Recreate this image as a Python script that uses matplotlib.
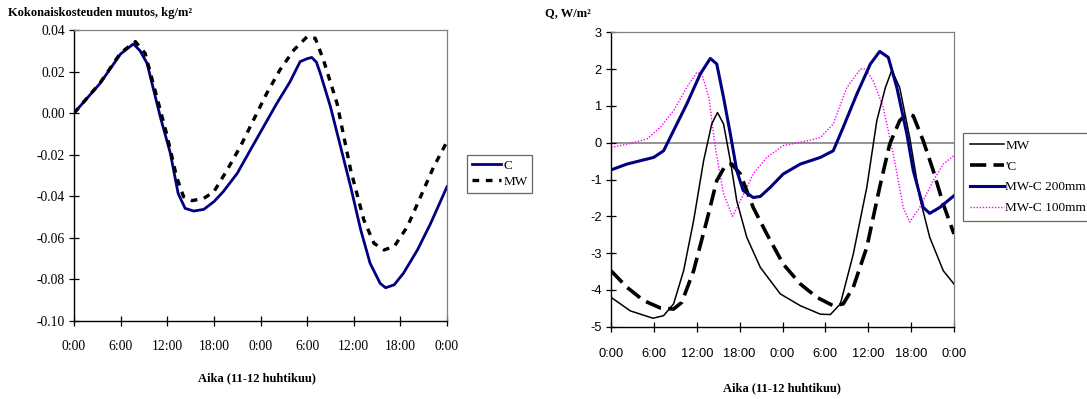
import matplotlib
matplotlib.use("Agg")
import matplotlib.pyplot as plt

# ---------------- data ----------------
# Left chart: total moisture change, kg/m2 (x in hours from start)
c_hours = [0, 3.35, 6.0, 7.65, 8.5, 9.4, 11.1, 12.4, 13.4, 14.3, 15.4, 16.7, 18.0, 19.2, 21.0,
           22.7, 24.4, 26.1, 27.8, 29.1, 30.0, 30.6, 31.2, 31.7, 33.0, 34.3, 35.6, 36.9, 38.1,
           39.4, 40.1, 41.2, 42.4, 44.2, 45.9, 48]
c_vals = [0.0, 0.0143, 0.0285, 0.0333, 0.030, 0.024, -0.0017, -0.0193, -0.0386, -0.0458,
          -0.0471, -0.0463, -0.0426, -0.0378, -0.029, -0.0177, -0.0065, 0.0047, 0.0151,
          0.0248, 0.0262, 0.0268, 0.0245, 0.0191, 0.0031, -0.0161, -0.0354, -0.0562, -0.0722,
          -0.0819, -0.084, -0.0826, -0.077, -0.0658, -0.053, -0.0354]
mw_hours = [0, 3.35, 6.0, 7.9, 9.15, 10.65, 11.9, 13.2, 14.1, 15.2, 16.7, 18.0, 19.7, 21.4,
            23.1, 24.8, 26.5, 28.3, 30.0, 31.05, 32.1, 33.85, 35.6, 37.3, 38.6, 39.9, 41.2,
            42.9, 44.6, 46.3, 48]
mw_vals = [0.0, 0.0145, 0.029, 0.0344, 0.0288, 0.0079, -0.0097, -0.0306, -0.0402, -0.0421,
           -0.041, -0.0378, -0.0274, -0.0161, -0.0033, 0.0095, 0.0208, 0.0304, 0.0368, 0.036,
           0.0256, 0.0047, -0.0273, -0.0514, -0.0626, -0.0658, -0.0642, -0.0546, -0.0402,
           -0.0257, -0.0137]

# Right chart: heat flux Q, W/m2
q_mw_h = [0, 2.7, 5.87, 7.36, 8.76, 10.16, 11.56, 12.96, 14.1, 14.9, 15.75, 16.7, 17.6, 19.0,
          20.9, 23.7, 26.5, 29.3, 30.7, 32.1, 33.9, 35.8, 37.2, 38.4, 39.3, 40.4, 41.8, 43.2,
          44.6, 46.5, 48]
q_mw_v = [-4.20, -4.57, -4.77, -4.70, -4.38, -3.48, -2.12, -0.49, 0.51, 0.82, 0.51, -0.49,
          -1.58, -2.57, -3.39, -4.11, -4.43, -4.66, -4.67, -4.38, -3.03, -1.21, 0.6, 1.5,
          1.97, 1.5, 0.14, -1.49, -2.57, -3.48, -3.84]
q_c_h = [0, 2.24, 4.57, 6.9, 8.76, 9.9, 11.56, 13.4, 14.8, 16.0, 16.9, 18.1, 19.9, 21.8, 24.1,
         26.5, 28.8, 31.1, 32.5, 33.9, 35.8, 37.6, 39.0, 40.4, 41.4, 42.3, 43.7, 45.1, 46.5, 48]
q_c_v = [-3.48, -3.93, -4.29, -4.49, -4.52, -4.34, -3.48, -2.12, -1.03, -0.62, -0.58, -0.85,
         -1.76, -2.48, -3.30, -3.84, -4.20, -4.43, -4.38, -3.93, -2.84, -1.21, -0.04, 0.6,
         0.78, 0.73, 0.05, -0.76, -1.67, -2.48]
q_200_h = [0, 2.24, 5.96, 7.36, 8.76, 10.6, 12.5, 13.9, 14.8, 15.75, 16.7, 17.6, 18.5, 19.9,
           20.9, 22.3, 24.1, 26.5, 29.3, 31.1, 32.5, 34.4, 36.3, 37.6, 38.8, 40.0, 41.4, 42.3,
           43.7, 44.6, 46.0, 48]
q_200_v = [-0.74, -0.58, -0.40, -0.22, 0.33, 1.05, 1.87, 2.29, 2.14, 1.23, 0.24, -0.76, -1.30,
           -1.49, -1.46, -1.21, -0.85, -0.58, -0.40, -0.22, 0.42, 1.32, 2.14, 2.48, 2.32, 1.50,
           0.24, -0.76, -1.76, -1.92, -1.76, -1.44]
q_100_h = [0, 2.24, 5.03, 6.9, 8.76, 10.6, 12.0, 12.7, 13.7, 14.6, 15.75, 17.0, 18.1, 19.9,
           21.8, 24.1, 27.4, 29.3, 31.1, 33.0, 34.9, 35.6, 36.7, 38.1, 39.5, 40.9, 41.8, 43.2,
           45.1, 46.5, 48]
q_100_v = [-0.13, -0.04, 0.10, 0.42, 0.87, 1.50, 1.91, 1.87, 1.23, -0.13, -1.39, -2.0, -1.58,
           -0.85, -0.40, -0.08, 0.05, 0.14, 0.51, 1.50, 2.0, 2.0, 1.68, 0.96, -0.31, -1.76,
           -2.16, -1.76, -1.03, -0.58, -0.35]

tick_hours = [0, 6, 12, 18, 24, 30, 36, 42, 48]
tick_labels = ["0:00", "6:00", "12:00", "18:00", "0:00", "6:00", "12:00", "18:00", "0:00"]
left_yticks = [0.04, 0.02, 0.00, -0.02, -0.04, -0.06, -0.08, -0.10]
right_yticks = [3, 2, 1, 0, -1, -2, -3, -4, -5]

SERIF = "Liberation Serif"
SANS = "Liberation Sans"
GRAY = "#808080"

fig = plt.figure(figsize=(10.87, 3.99), dpi=100)

# ---------------- left chart ----------------
ax1 = fig.add_axes([74/1087, 1-321/399, 373/1087, 291/399])
ax1.plot(c_hours, c_vals, color="#000080", lw=2.0, label="C", solid_joinstyle="round")
ax1.plot(mw_hours, mw_vals, color="black", lw=2.4, ls=(0, (2.0, 2.0)), label="MW")
ax1.set_xlim(0, 48)
ax1.set_ylim(-0.10, 0.04)
ax1.set_xticks(tick_hours)
ax1.set_xticklabels(tick_labels, fontfamily=SERIF, fontsize=9.8)
ax1.set_yticks(left_yticks)
ax1.set_yticklabels([f"{v:.2f}" for v in left_yticks], fontfamily=SERIF, fontsize=9.8)
ax1.tick_params(axis="both", direction="inout", length=7, width=0.9, pad=3)
ax1.tick_params(axis="x", pad=10)
for s in ("top", "right"):
    ax1.spines[s].set_color(GRAY)
    ax1.spines[s].set_linewidth(0.9)
for s in ("left", "bottom"):
    ax1.spines[s].set_linewidth(1.0)
fig.text(8/1087, 1-13/399, "Kokonaiskosteuden muutos, kg/m²", fontfamily=SERIF,
         fontweight="bold", fontsize=9, va="center", ha="left")
fig.text(257/1087, 1-378/399, "Aika (11-12 huhtikuu)", fontfamily=SERIF,
         fontweight="bold", fontsize=9, va="center", ha="center")
leg1 = ax1.legend(loc="upper left", bbox_to_anchor=(467/1087, 1-155/399),
                  bbox_transform=fig.transFigure, borderaxespad=0,
                  prop={"family": SERIF, "size": 9.5}, frameon=True, fancybox=False,
                  edgecolor="#404040", handlelength=2.2, handletextpad=0.2,
                  borderpad=0.35, labelspacing=0.3)
leg1.get_frame().set_linewidth(0.9)

# ---------------- right chart ----------------
ax2 = fig.add_axes([611/1087, 1-326.7/399, 343/1087, 294.4/399])
ax2.axhline(0, color=GRAY, lw=1.2, zorder=1)
ax2.plot(q_mw_h, q_mw_v, color="black", lw=1.1, label="MW", zorder=3)
ax2.plot(q_c_h, q_c_v, color="black", lw=2.6, ls=(0, (4.5, 2.0)), label="'C", zorder=3)
ax2.plot(q_200_h, q_200_v, color="#000080", lw=2.2, label="MW-C 200mm", zorder=4)
ax2.plot(q_100_h, q_100_v, color="#FF00FF", lw=1.0, ls=(0, (1, 1.2)), label="MW-C 100mm",
         zorder=2)
ax2.set_xlim(0, 48)
ax2.set_ylim(-5, 3)
ax2.set_xticks(tick_hours)
ax2.set_xticklabels(tick_labels, fontfamily=SANS, fontsize=9.3)
ax2.set_yticks(right_yticks)
ax2.set_yticklabels([str(v) for v in right_yticks], fontfamily=SANS, fontsize=9.3)
ax2.tick_params(axis="both", direction="inout", length=7, width=0.9, pad=3)
ax2.tick_params(axis="x", pad=12)
for s in ("top", "right"):
    ax2.spines[s].set_color(GRAY)
    ax2.spines[s].set_linewidth(0.9)
for s in ("left", "bottom"):
    ax2.spines[s].set_linewidth(1.0)
fig.text(545/1087, 1-13/399, "Q, W/m²", fontfamily=SERIF, fontweight="bold",
         fontsize=9, va="center", ha="left")
fig.text(782/1087, 1-388/399, "Aika (11-12 huhtikuu)", fontfamily=SERIF,
         fontweight="bold", fontsize=9, va="center", ha="center")
leg2 = ax2.legend(loc="upper left", bbox_to_anchor=(963/1087, 1-133/399),
                  bbox_transform=fig.transFigure, borderaxespad=0,
                  prop={"family": SERIF, "size": 9.5}, frameon=True, fancybox=False,
                  edgecolor="#404040", handlelength=2.6, handletextpad=0.1,
                  borderpad=0.5, labelspacing=0.65)
leg2.get_frame().set_linewidth(0.9)

fig.savefig("out.png", dpi=100)
